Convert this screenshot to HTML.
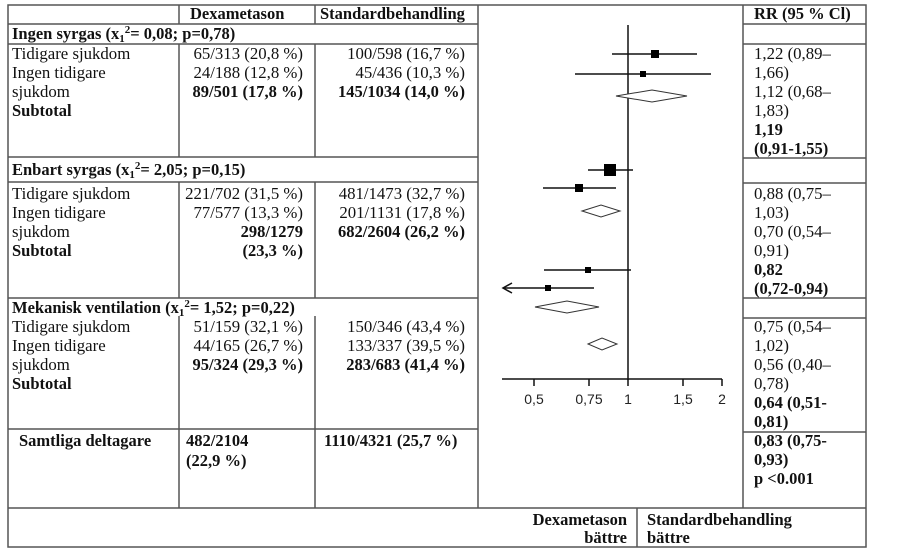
<!DOCTYPE html>
<html><head><meta charset="utf-8"><style>
html,body{margin:0;padding:0;background:#fff;}
svg{display:block;}
text{font-family:"Liberation Serif",serif;font-size:16.8px;fill:#111;}
.b{font-weight:bold;font-size:16.5px;}
.r{text-anchor:end;}
.ax{font-family:"Liberation Sans",sans-serif;font-size:14px;fill:#222;text-anchor:middle;}
</style></head><body>
<svg width="907" height="550" viewBox="0 0 907 550">
<g stroke="#555" stroke-width="1.5" fill="none">
<rect x="8" y="5" width="858" height="542"/>
<line x1="8" y1="24" x2="478" y2="24"/>
<line x1="8" y1="44" x2="478" y2="44"/>
<line x1="8" y1="157" x2="478" y2="157"/>
<line x1="8" y1="182" x2="478" y2="182"/>
<line x1="8" y1="298" x2="478" y2="298"/>
<line x1="8" y1="429" x2="478" y2="429"/>
<line x1="8" y1="508" x2="866" y2="508"/>
<line x1="179" y1="5" x2="179" y2="24"/>
<line x1="315" y1="5" x2="315" y2="24"/>
<line x1="179" y1="44" x2="179" y2="157"/>
<line x1="315" y1="44" x2="315" y2="157"/>
<line x1="179" y1="182" x2="179" y2="298"/>
<line x1="315" y1="182" x2="315" y2="298"/>
<line x1="179" y1="316" x2="179" y2="508"/>
<line x1="315" y1="316" x2="315" y2="508"/>
<line x1="478" y1="5" x2="478" y2="508"/>
<line x1="743" y1="5" x2="743" y2="508"/>
<line x1="743" y1="24" x2="866" y2="24"/>
<line x1="743" y1="44" x2="866" y2="44"/>
<line x1="743" y1="158" x2="866" y2="158"/>
<line x1="743" y1="183" x2="866" y2="183"/>
<line x1="743" y1="298" x2="866" y2="298"/>
<line x1="743" y1="318" x2="866" y2="318"/>
<line x1="743" y1="432" x2="866" y2="432"/>
<line x1="637" y1="508" x2="637" y2="547"/>
</g>
<g stroke="#111" stroke-width="1.5" fill="none">
<line x1="628" y1="25" x2="628" y2="380"/>
<line x1="502" y1="379" x2="722" y2="379"/>
<line x1="534" y1="379" x2="534" y2="386"/>
<line x1="589" y1="379" x2="589" y2="386"/>
<line x1="628" y1="379" x2="628" y2="386"/>
<line x1="683" y1="379" x2="683" y2="386"/>
<line x1="722" y1="379" x2="722" y2="386"/>
<line x1="612" y1="54" x2="697" y2="54"/>
<line x1="575" y1="74" x2="711" y2="74"/>
<line x1="588" y1="170" x2="633" y2="170"/>
<line x1="543" y1="188" x2="616" y2="188"/>
<line x1="544" y1="270" x2="631" y2="270"/>
<line x1="503" y1="288" x2="594" y2="288"/>
<polyline points="512,283 503,288 512,293"/>
</g>
<g fill="#000">
<rect x="651" y="50" width="8" height="8"/>
<rect x="640" y="71" width="6" height="6"/>
<rect x="604" y="164" width="12" height="12"/>
<rect x="575" y="184" width="8" height="8"/>
<rect x="585" y="267" width="6" height="6"/>
<rect x="545" y="285" width="6" height="6"/>
</g>
<g stroke="#333" stroke-width="1" fill="#fff">
<polygon points="616,96 652,90 687,96 652,102"/>
<polygon points="582,211 601,205 620,211 601,217"/>
<polygon points="535,307 567,301 599,307 567,313"/>
<polygon points="588,344 602,338 617,344 602,350"/>
</g>
<text class="ax" x="534" y="404">0,5</text>
<text class="ax" x="589" y="404">0,75</text>
<text class="ax" x="628" y="404">1</text>
<text class="ax" x="683" y="404">1,5</text>
<text class="ax" x="722" y="404">2</text>
<text class="b" x="190" y="19">Dexametason</text>
<text class="b" x="320" y="19">Standardbehandling</text>
<text class="b" x="754" y="19">RR (95 % Cl)</text>
<text class="b" x="12" y="39">Ingen syrgas (x<tspan font-size="11" dy="3">1</tspan><tspan font-size="11" dy="-9">2</tspan><tspan dy="6">= 0,08; p=0,78)</tspan></text>
<text class="b" x="12" y="175">Enbart syrgas (x<tspan font-size="11" dy="3">1</tspan><tspan font-size="11" dy="-9">2</tspan><tspan dy="6">= 2,05; p=0,15)</tspan></text>
<text class="b" x="12" y="313">Mekanisk ventilation (x<tspan font-size="11" dy="3">1</tspan><tspan font-size="11" dy="-9">2</tspan><tspan dy="6">= 1,52; p=0,22)</tspan></text>
<text x="12" y="59">Tidigare sjukdom</text>
<text x="12" y="78">Ingen tidigare</text>
<text x="12" y="97">sjukdom</text>
<text class="b" x="12" y="116">Subtotal</text>
<text class="r" x="303" y="59">65/313 (20,8 %)</text>
<text class="r" x="303" y="78">24/188 (12,8 %)</text>
<text class="r b" x="303" y="97">89/501 (17,8 %)</text>
<text class="r" x="465" y="59">100/598 (16,7 %)</text>
<text class="r" x="465" y="78">45/436 (10,3 %)</text>
<text class="r b" x="465" y="97">145/1034 (14,0 %)</text>
<text x="12" y="199">Tidigare sjukdom</text>
<text x="12" y="218">Ingen tidigare</text>
<text x="12" y="237">sjukdom</text>
<text class="b" x="12" y="256">Subtotal</text>
<text class="r" x="303" y="199">221/702 (31,5 %)</text>
<text class="r" x="303" y="218">77/577 (13,3 %)</text>
<text class="r b" x="303" y="237">298/1279</text>
<text class="r b" x="303" y="256">(23,3 %)</text>
<text class="r" x="465" y="199">481/1473 (32,7 %)</text>
<text class="r" x="465" y="218">201/1131 (17,8 %)</text>
<text class="r b" x="465" y="237">682/2604 (26,2 %)</text>
<text x="12" y="332">Tidigare sjukdom</text>
<text x="12" y="351">Ingen tidigare</text>
<text x="12" y="370">sjukdom</text>
<text class="b" x="12" y="389">Subtotal</text>
<text class="r" x="303" y="332">51/159 (32,1 %)</text>
<text class="r" x="303" y="351">44/165 (26,7 %)</text>
<text class="r b" x="303" y="370">95/324 (29,3 %)</text>
<text class="r" x="465" y="332">150/346 (43,4 %)</text>
<text class="r" x="465" y="351">133/337 (39,5 %)</text>
<text class="r b" x="465" y="370">283/683 (41,4 %)</text>
<text class="b" x="19" y="446">Samtliga deltagare</text>
<text class="b" x="186" y="446">482/2104</text>
<text class="b" x="186" y="466">(22,9 %)</text>
<text class="b" x="324" y="446">1110/4321 (25,7 %)</text>
<text x="754" y="59">1,22 (0,89–</text>
<text x="754" y="78">1,66)</text>
<text x="754" y="97">1,12 (0,68–</text>
<text x="754" y="116">1,83)</text>
<text class="b" x="754" y="135">1,19</text>
<text class="b" x="754" y="154">(0,91-1,55)</text>
<text x="754" y="199">0,88 (0,75–</text>
<text x="754" y="218">1,03)</text>
<text x="754" y="237">0,70 (0,54–</text>
<text x="754" y="256">0,91)</text>
<text class="b" x="754" y="275">0,82</text>
<text class="b" x="754" y="294">(0,72-0,94)</text>
<text x="754" y="332">0,75 (0,54–</text>
<text x="754" y="351">1,02)</text>
<text x="754" y="370">0,56 (0,40–</text>
<text x="754" y="389">0,78)</text>
<text class="b" x="754" y="408">0,64 (0,51-</text>
<text class="b" x="754" y="427">0,81)</text>
<text class="b" x="754" y="446">0,83 (0,75-</text>
<text class="b" x="754" y="465">0,93)</text>
<text class="b" x="754" y="484">p &lt;0.001</text>
<text class="b r" x="627" y="525">Dexametason</text>
<text class="b r" x="627" y="543">bättre</text>
<text class="b" x="647" y="525">Standardbehandling</text>
<text class="b" x="647" y="543">bättre</text>
</svg>
</body></html>
